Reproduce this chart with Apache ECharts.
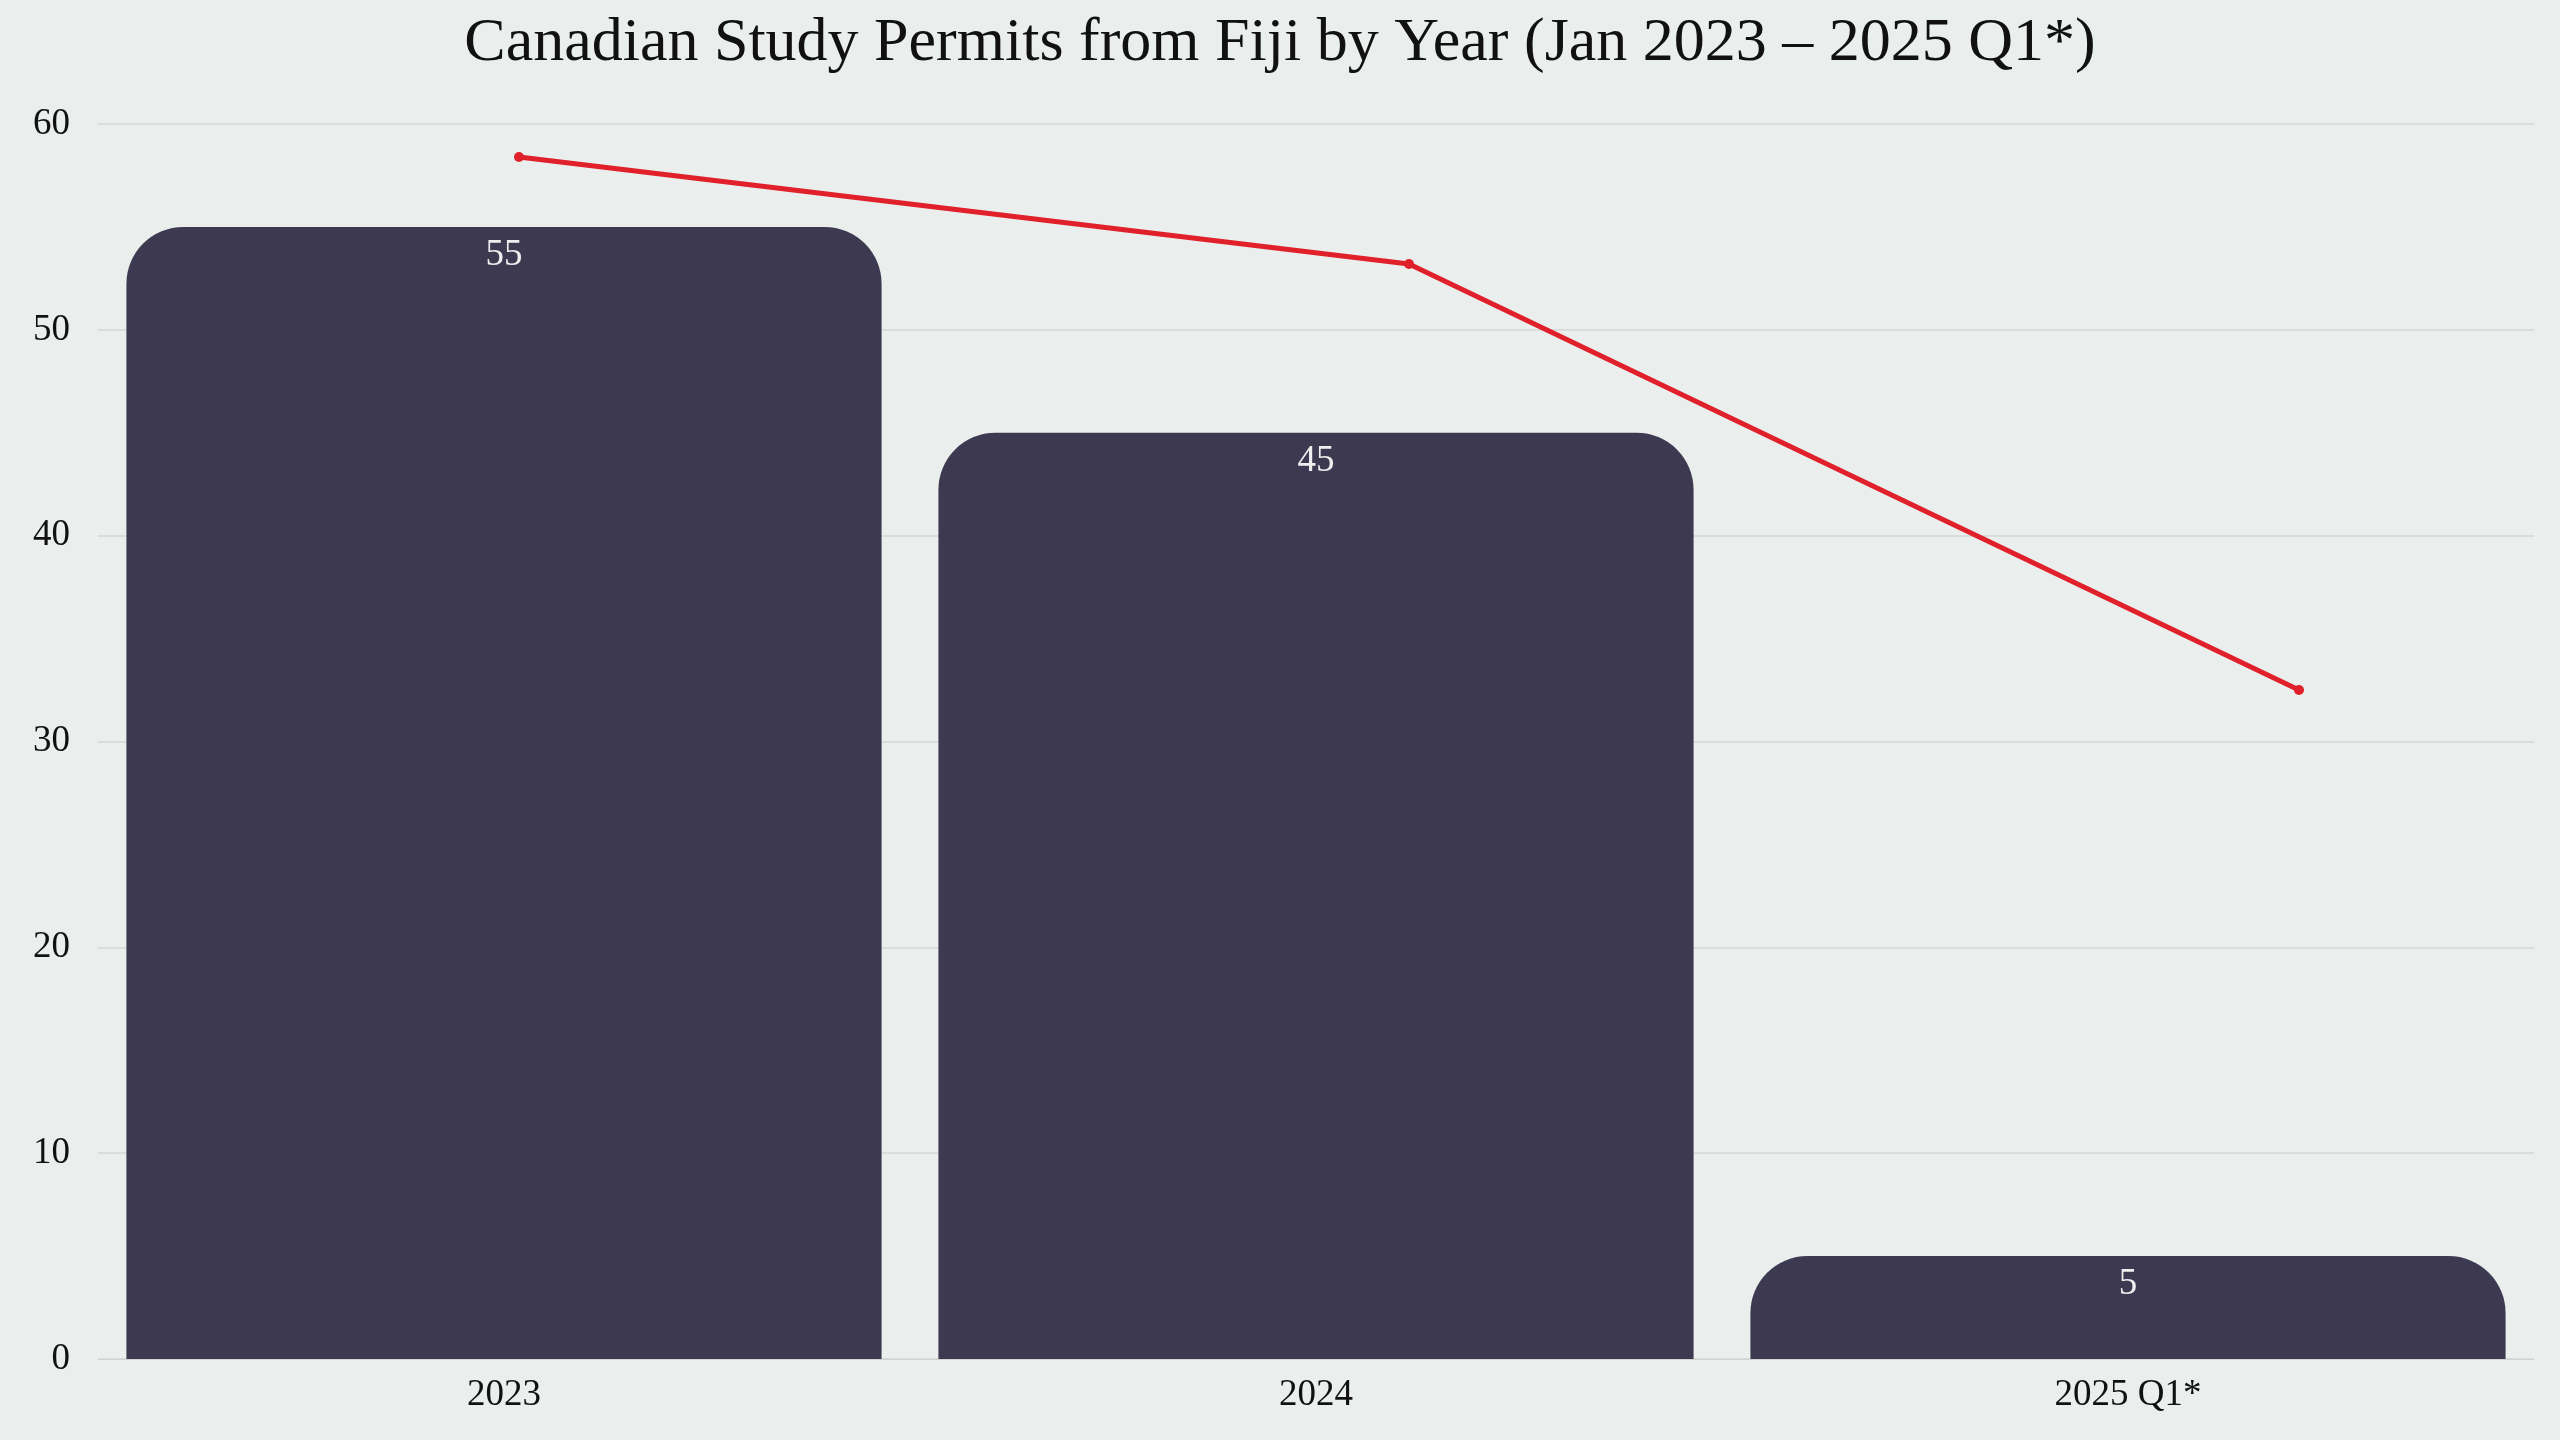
<!DOCTYPE html>
<html>
<head>
<meta charset="utf-8">
<script src="https://cdn.jsdelivr.net/npm/echarts@6/dist/echarts.min.js"></script>
<style>
  html, body { margin: 0; padding: 0; background: #eaeeec; }
  #main { width: 2560px; height: 1440px; }
</style>
</head>
<body>
<div id="main"></div>
<script>
var years = ['2023', '2024', '2025 Q1*'];
var permits = [55, 45, 5];
// trend line, drawn in its own overlaid grid
var trendValues = [58.4, 53.2, 32.5];

var font = 'Liberation Serif';
var mychart = echarts.init(document.getElementById('main'));
var option = {
    backgroundColor: '#eaeeec',
    textStyle: { fontFamily: font },
    title: {
        text: 'Canadian Study Permits from Fiji by Year (Jan 2023 \u2013 2025 Q1*)',
        left: 'center',
        top: 8,
        textStyle: { fontFamily: font, fontSize: 62, fontWeight: 'normal', color: '#111' }
    },
    grid: [
        { left: 98, right: 26, top: 124, bottom: 81 },
        { left: 519, right: 261, top: 124, bottom: 81 }
    ],
    xAxis: [{
        type: 'category',
        gridIndex: 0,
        data: years,
        axisTick: { show: false },
        axisLine: { lineStyle: { color: '#cfd3d2' } },
        axisLabel: { fontSize: 37, color: '#111', margin: 18, fontFamily: font }
    }, {
        type: 'category',
        gridIndex: 1,
        data: years,
        boundaryGap: false,
        show: false
    }],
    yAxis: [{
        type: 'value',
        gridIndex: 0,
        min: 0,
        max: 60,
        interval: 10,
        axisLabel: { fontSize: 37, color: '#111', margin: 28, fontFamily: font },
        splitLine: { lineStyle: { color: '#d3d7d6', width: 1.5 } }
    }, {
        type: 'value',
        gridIndex: 1,
        min: 0,
        max: 60,
        show: false
    }],
    series: [{
        type: 'bar',
        xAxisIndex: 0,
        yAxisIndex: 0,
        data: permits,
        barCategoryGap: '7%',
        itemStyle: { color: '#3d3950', borderRadius: [57, 57, 0, 0] },
        label: {
            show: true,
            position: 'insideTop',
            distance: 10,
            fontSize: 37,
            color: '#eeeeee',
            fontFamily: font
        }
    }, {
        type: 'line',
        xAxisIndex: 1,
        yAxisIndex: 1,
        data: trendValues,
        symbol: 'circle',
        symbolSize: 10,
        lineStyle: { color: '#e0202a', width: 5 },
        itemStyle: { color: '#e0202a' },
        z: 5
    }]
};
mychart.setOption(option);
</script>
</body>
</html>
